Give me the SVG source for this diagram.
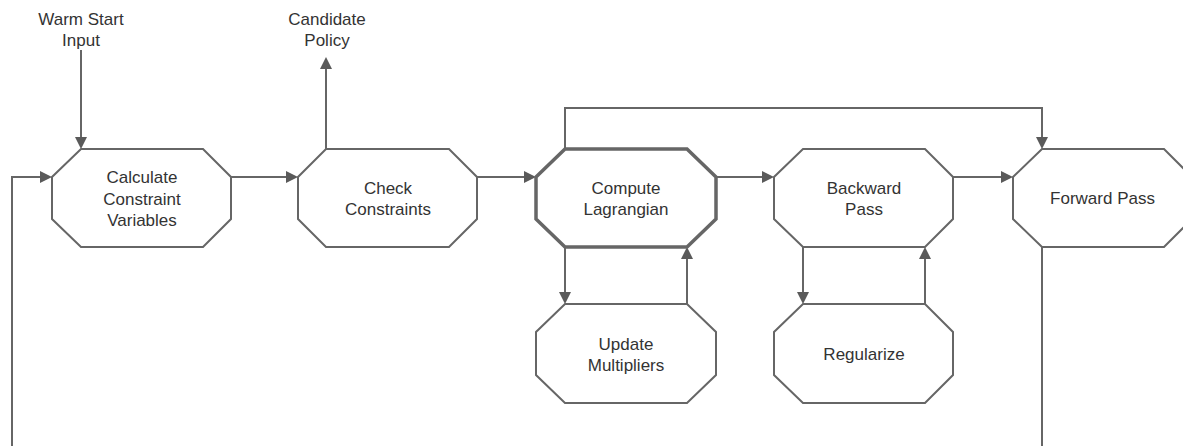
<svg xmlns="http://www.w3.org/2000/svg" width="1183" height="446" viewBox="0 0 1183 446">
  <style>
    .node { fill: #ffffff; stroke: #666666; stroke-width: 2; stroke-linejoin: miter; }
    .node.active { stroke-width: 3.5; }
    .label { font-family: "Liberation Sans", Arial, sans-serif; font-size: 17px; fill: #333333; text-anchor: middle; }
    .edge { fill: none; stroke: #666666; stroke-width: 2; }
  </style>
  <defs>
    <marker id="arrow" viewBox="0 0 12 12" refX="10" refY="6" markerWidth="12" markerHeight="12" markerUnits="userSpaceOnUse" orient="auto">
      <path d="M0,0 L12,6 L0,12 z" fill="#5a5a5a"/>
    </marker>
  </defs>

  <rect width="1183" height="446" fill="#ffffff"/>

  <!-- connectors -->
  <g id="connectors">
    <path class="edge" d="M81,50 V147" marker-end="url(#arrow)"/>
    <path class="edge" d="M326,149 V59" marker-end="url(#arrow)"/>
    <path class="edge" d="M12,446 V177 H50" marker-end="url(#arrow)"/>
    <path class="edge" d="M231,177 H296" marker-end="url(#arrow)"/>
    <path class="edge" d="M477,177 H534" marker-end="url(#arrow)"/>
    <path class="edge" d="M716,177 H772" marker-end="url(#arrow)"/>
    <path class="edge" d="M953,177 H1011" marker-end="url(#arrow)"/>
    <path class="edge" d="M565,149 V108 H1042 V147" marker-end="url(#arrow)"/>
    <path class="edge" d="M565,247 V302" marker-end="url(#arrow)"/>
    <path class="edge" d="M687,304 V249" marker-end="url(#arrow)"/>
    <path class="edge" d="M803,247 V302" marker-end="url(#arrow)"/>
    <path class="edge" d="M925,304 V249" marker-end="url(#arrow)"/>
    <path class="edge" d="M1042,247 V446"/>
  </g>

  <!-- external inputs / outputs -->
  <g id="warm-start">
    <text class="label" x="81" y="25">Warm Start</text>
    <text class="label" x="81" y="46">Input</text>
  </g>
  <g id="candidate-policy">
    <text class="label" x="327" y="25">Candidate</text>
    <text class="label" x="327" y="46">Policy</text>
  </g>

  <!-- process nodes -->
  <g id="calc-constraints">
    <polygon class="node" points="81,149 203,149 231,177 231,219 203,247 81,247 52,219 52,177"/>
    <text class="label" x="142" y="183">Calculate</text>
    <text class="label" x="142" y="204.5">Constraint</text>
    <text class="label" x="142" y="226">Variables</text>
  </g>
  <g id="check-constraints">
    <polygon class="node" points="326,149 449,149 477,177 477,219 449,247 326,247 298,219 298,177"/>
    <text class="label" x="388" y="194">Check</text>
    <text class="label" x="388" y="215">Constraints</text>
  </g>
  <g id="compute-lagrangian">
    <polygon class="node active" points="565,149 687,149 716,177 716,219 687,247 565,247 536,219 536,177"/>
    <text class="label" x="626" y="194">Compute</text>
    <text class="label" x="626" y="215">Lagrangian</text>
  </g>
  <g id="backward-pass">
    <polygon class="node" points="803,149 925,149 953,177 953,219 925,247 803,247 774,219 774,177"/>
    <text class="label" x="864" y="194">Backward</text>
    <text class="label" x="864" y="215">Pass</text>
  </g>
  <g id="forward-pass">
    <polygon class="node" points="1042,149 1164,149 1192,177 1192,219 1164,247 1042,247 1013,219 1013,177"/>
    <text class="label" x="1102.5" y="204">Forward Pass</text>
  </g>
  <g id="update-multipliers">
    <polygon class="node" points="565,304 687,304 716,332 716,375 687,403 565,403 536,375 536,332"/>
    <text class="label" x="626" y="350">Update</text>
    <text class="label" x="626" y="371">Multipliers</text>
  </g>
  <g id="regularize">
    <polygon class="node" points="803,304 925,304 953,332 953,375 925,403 803,403 774,375 774,332"/>
    <text class="label" x="864" y="359.5">Regularize</text>
  </g>
</svg>
